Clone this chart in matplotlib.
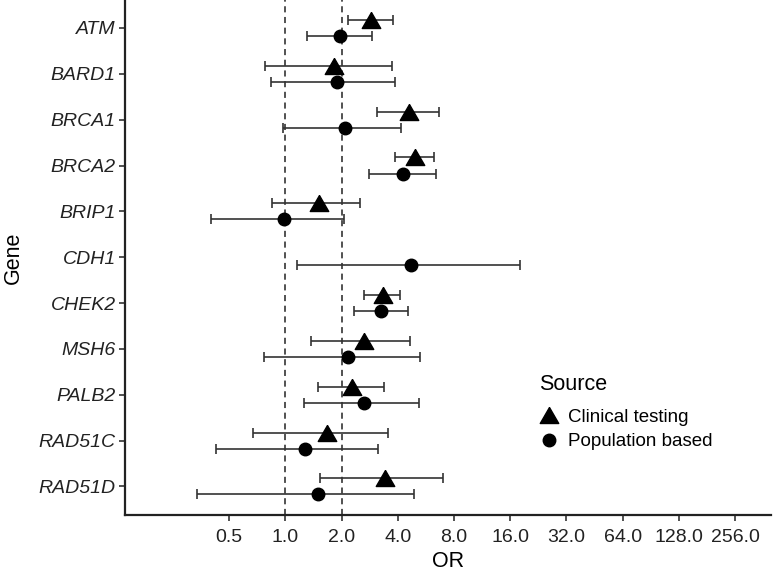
import matplotlib
matplotlib.use("Agg")
import matplotlib.pyplot as plt
import numpy as np
from matplotlib.lines import Line2D

plt.rcParams['font.family'] = ['Liberation Sans', 'DejaVu Sans']

genes = ["ATM", "BARD1", "BRCA1", "BRCA2", "BRIP1", "CDH1", "CHEK2",
         "MSH6", "PALB2", "RAD51C", "RAD51D"]

# Clinical testing (None = not available)
clin_or = [2.88, 1.81, 4.58, 4.92, 1.52, None, 3.31, 2.63, 2.28, 1.67, 3.41]
clin_lo = [2.17, 0.774, 3.11, 3.85, 0.85, None, 2.65, 1.37, 1.49, 0.673, 1.54]
clin_hi = [3.76, 3.73, 6.67, 6.25, 2.52, None, 4.12, 4.64, 3.39, 3.56, 6.95]

# Population based
pop_or = [1.97, 1.88, 2.08, 4.24, 0.98, 4.72, 3.25, 2.15, 2.63, 1.28, 1.50]
pop_lo = [1.30, 0.834, 0.97, 2.79, 0.40, 1.15, 2.33, 0.765, 1.25, 0.425, 0.335]
pop_hi = [2.91, 3.87, 4.15, 6.40, 2.06, 18.1, 4.55, 5.27, 5.17, 3.14, 4.88]

xticks = [0.5, 1.0, 2.0, 4.0, 8.0, 16.0, 32.0, 64.0, 128.0, 256.0]
xtick_labels = ["0.5", "1.0", "2.0", "4.0", "8.0", "16.0", "32.0", "64.0", "128.0", "256.0"]

tri = [(0, 0.433), (-0.5, -0.433), (0.5, -0.433), (0, 0.433)]
TRI_MS = 13.3
CIR_MS = 9.0

fig = plt.figure(figsize=(7.74, 5.73), dpi=100)
ax = fig.add_axes([0.1615, 0.1017, 0.8346, 0.8983])

ax.set_xscale("log", base=2)
ax.axvline(1.0, color="#222222", ls=(0, (4, 3)), lw=1.1, zorder=1)
ax.axvline(2.0, color="#222222", ls=(0, (4, 3)), lw=1.1, zorder=1)

off = 0.175
ebc = "#333333"
for i, g in enumerate(genes):
    if clin_or[i] is not None:
        y = i - off
        ax.errorbar([clin_or[i]], [y],
                    xerr=[[clin_or[i] - clin_lo[i]], [clin_hi[i] - clin_or[i]]],
                    fmt="none", ecolor=ebc, elinewidth=1.2, capsize=3.8, capthick=1.2, zorder=2)
        ax.plot([clin_or[i]], [y], marker=tri, color="black", ms=TRI_MS, ls="none", zorder=3)
    y = i + off
    ax.errorbar([pop_or[i]], [y],
                xerr=[[pop_or[i] - pop_lo[i]], [pop_hi[i] - pop_or[i]]],
                fmt="none", ecolor=ebc, elinewidth=1.2, capsize=3.8, capthick=1.2, zorder=2)
    ax.plot([pop_or[i]], [y], marker="o", color="black", ms=CIR_MS, ls="none", zorder=3)

ax.set_xlim(2 ** -2.856, 2 ** 8.64)
ax.set_ylim(10.617, -0.61)
ax.set_yticks(range(len(genes)))
ax.set_yticklabels(genes, fontstyle="italic", fontsize=14, color="#222222")
ax.set_xticks(xticks)
ax.set_xticklabels(xtick_labels, fontsize=14, color="#222222")
ax.xaxis.set_minor_locator(matplotlib.ticker.NullLocator())

for s in ["top", "right"]:
    ax.spines[s].set_visible(False)
for s in ["left", "bottom"]:
    ax.spines[s].set_linewidth(1.6)
    ax.spines[s].set_color("#222222")
ax.tick_params(axis="y", length=4, width=1.2, color="#333333", pad=2.5)
ax.tick_params(axis="x", length=4, width=1.2, color="#333333", pad=6)

ax.set_xlabel("OR", fontsize=15.5, labelpad=4)
ax.set_ylabel("Gene", fontsize=15.5, labelpad=11)

handles = [Line2D([], [], marker=tri, color="black", ls="none", ms=TRI_MS),
           Line2D([], [], marker="o", color="black", ls="none", ms=CIR_MS)]
leg = fig.legend(handles, ["Clinical testing", "Population based"], title="Source",
                 loc="upper left", bbox_to_anchor=(0.697, 0.348), frameon=False,
                 fontsize=13.5, title_fontsize=15.5, handlelength=1.0, handletextpad=0.5,
                 labelspacing=0.41, borderpad=0.0, borderaxespad=0.0)
leg._legend_box.align = "left"
leg._legend_box.sep = 10

fig.savefig("out.png", dpi=100)
